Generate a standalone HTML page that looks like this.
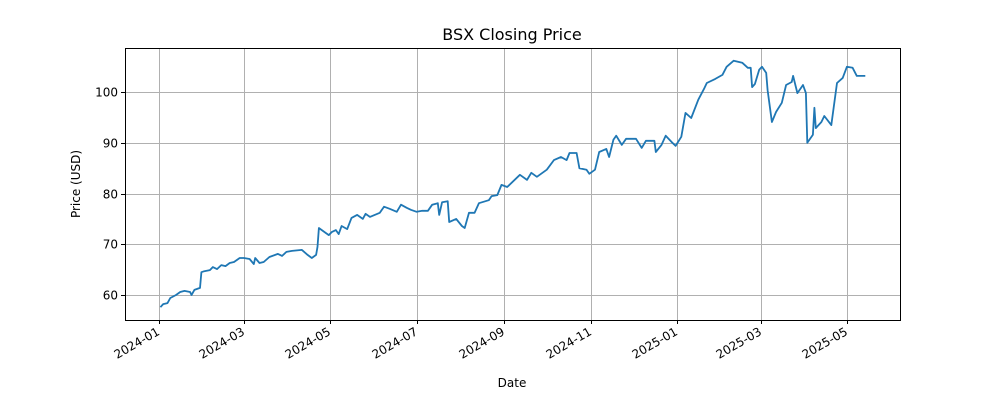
<!DOCTYPE html>
<html><head><meta charset="utf-8"><style>
body{margin:0;background:#fff;font-family:"Liberation Sans","DejaVu Sans",sans-serif}
svg text{font-family:"DejaVu Sans","Liberation Sans",sans-serif;font-size:12px;fill:#000}
</style></head><body>
<svg id="chart" width="1000" height="400" xmlns="http://www.w3.org/2000/svg">
<rect width="1000" height="400" fill="#fff"/>
<g id="grid"></g>
<g id="axes"></g>
<path id="line" fill="none" stroke="#1f77b4" stroke-width="1.8" stroke-linejoin="round"/>
<rect x="125.5" y="48.5" width="775" height="272" fill="none" stroke="#000" stroke-width="1"/>
<text x="512" y="40" text-anchor="middle" style="font-size:16px">BSX Closing Price</text>
<text x="512" y="387" text-anchor="middle">Date</text>
<text transform="translate(80,184) rotate(-90)" text-anchor="middle">Price (USD)</text>
</svg>
<script>
const dates=["2024-01-02","2024-01-04","2024-01-07","2024-01-09","2024-01-13","2024-01-16","2024-01-19","2024-01-23","2024-01-24","2024-01-26","2024-01-30","2024-01-31","2024-02-02","2024-02-06","2024-02-08","2024-02-11","2024-02-14","2024-02-17","2024-02-20","2024-02-23","2024-02-27","2024-03-01","2024-03-05","2024-03-08","2024-03-09","2024-03-12","2024-03-15","2024-03-19","2024-03-25","2024-03-28","2024-03-31","2024-04-04","2024-04-11","2024-04-15","2024-04-18","2024-04-21","2024-04-22","2024-04-23","2024-04-27","2024-04-30","2024-05-02","2024-05-05","2024-05-07","2024-05-09","2024-05-13","2024-05-16","2024-05-20","2024-05-24","2024-05-26","2024-05-29","2024-06-05","2024-06-08","2024-06-12","2024-06-17","2024-06-20","2024-06-24","2024-06-27","2024-07-01","2024-07-05","2024-07-09","2024-07-12","2024-07-16","2024-07-17","2024-07-19","2024-07-23","2024-07-24","2024-07-29","2024-08-02","2024-08-04","2024-08-07","2024-08-11","2024-08-14","2024-08-21","2024-08-23","2024-08-27","2024-08-30","2024-09-03","2024-09-12","2024-09-17","2024-09-20","2024-09-24","2024-10-01","2024-10-06","2024-10-11","2024-10-15","2024-10-17","2024-10-22","2024-10-24","2024-10-29","2024-10-31","2024-11-04","2024-11-07","2024-11-12","2024-11-14","2024-11-17","2024-11-19","2024-11-23","2024-11-26","2024-12-03","2024-12-07","2024-12-10","2024-12-16","2024-12-17","2024-12-21","2024-12-24","2024-12-28","2024-12-31","2025-01-04","2025-01-07","2025-01-11","2025-01-16","2025-01-20","2025-01-22","2025-01-28","2025-02-02","2025-02-05","2025-02-10","2025-02-16","2025-02-20","2025-02-22","2025-02-23","2025-02-25","2025-02-28","2025-03-02","2025-03-05","2025-03-06","2025-03-09","2025-03-12","2025-03-16","2025-03-19","2025-03-23","2025-03-24","2025-03-27","2025-03-31","2025-04-02","2025-04-03","2025-04-07","2025-04-08","2025-04-09","2025-04-13","2025-04-15","2025-04-20","2025-04-24","2025-04-28","2025-05-01","2025-05-05","2025-05-08","2025-05-14"];
const prices=[57.6,58.2,58.4,59.4,60.0,60.6,60.8,60.6,60.0,61.0,61.4,64.5,64.7,64.9,65.5,65.1,65.9,65.7,66.3,66.5,67.3,67.3,67.1,66.1,67.3,66.3,66.5,67.5,68.1,67.7,68.5,68.7,68.9,67.9,67.3,67.9,69.5,73.2,72.4,71.8,72.4,72.8,72.0,73.6,73.0,75.2,75.8,75.0,76.0,75.4,76.2,77.4,77.0,76.4,77.8,77.2,76.8,76.4,76.6,76.6,77.8,78.1,75.8,78.3,78.5,74.4,75.0,73.6,73.2,76.2,76.2,78.1,78.7,79.5,79.7,81.7,81.3,83.7,82.7,84.1,83.3,84.7,86.6,87.2,86.6,88.0,88.0,85.0,84.7,83.9,84.7,88.2,88.8,87.2,90.6,91.4,89.6,90.8,90.8,89.0,90.4,90.4,88.2,89.6,91.4,90.2,89.4,91.2,95.9,94.9,98.5,100.6,101.8,102.6,103.4,105.0,106.2,105.8,104.8,104.8,101.0,101.6,104.4,105.0,103.8,100.4,94.1,96.1,97.9,101.4,102.0,103.2,99.8,101.4,99.8,90.0,91.6,96.9,92.9,94.1,95.3,93.5,101.8,102.8,105.0,104.8,103.2,103.2];
const xTickLabels=["2024-01","2024-03","2024-05","2024-07","2024-09","2024-11","2025-01","2025-03","2025-05"];
const yTicks=[60,70,80,90,100];

const NS="http://www.w3.org/2000/svg";
const base=Date.UTC(2024,0,1);
function dayOf(s){const p=s.split("-");return (Date.UTC(+p[0],+p[1]-1,+(p[2]||1))-base)/86400000;}
const L=125,R=900,T=48,B=320;
const d0=-24,d1=523.5,v0=55.07,v1=108.7;
function xs(s){return L+(dayOf(s)-d0)/(d1-d0)*(R-L);}
function ys(v){return B-(v-v0)/(v1-v0)*(B-T);}
const grid=document.getElementById("grid"),axes=document.getElementById("axes");
function mk(tag,attrs,parent){const e=document.createElementNS(NS,tag);for(const k in attrs)e.setAttribute(k,attrs[k]);parent.appendChild(e);return e;}
xTickLabels.forEach(t=>{
  const x=Math.round(xs(t))+0.5;
  const g=mk("line",{x1:x,x2:x,y1:T,y2:B,stroke:"#b0b0b0","stroke-width":1},grid);
  
  
  const tk=mk("line",{x1:x,x2:x,y1:B,y2:B+4,stroke:"#000"},axes);
  
  
  const tx=mk("text",{transform:`translate(${x+1},${B+14}) rotate(-30)`,"text-anchor":"end"},axes);
  tx.textContent=t;
  
  
});
yTicks.forEach(v=>{
  const y=Math.round(ys(v))+0.5;
  const g=mk("line",{x1:L,x2:R,y1:y,y2:y,stroke:"#b0b0b0","stroke-width":1},grid);
  
  
  const tk=mk("line",{x1:L-4,x2:L,y1:y,y2:y,stroke:"#000"},axes);
  
  
  const tx=mk("text",{x:L-7,y:y+4,"text-anchor":"end"},axes);
  tx.textContent=v;
  
  
});
document.getElementById("line").setAttribute("d",dates.map((d,i)=>(i?"L":"M")+xs(d).toFixed(1)+","+ys(prices[i]).toFixed(1)).join(""));
</script>
</body></html>
